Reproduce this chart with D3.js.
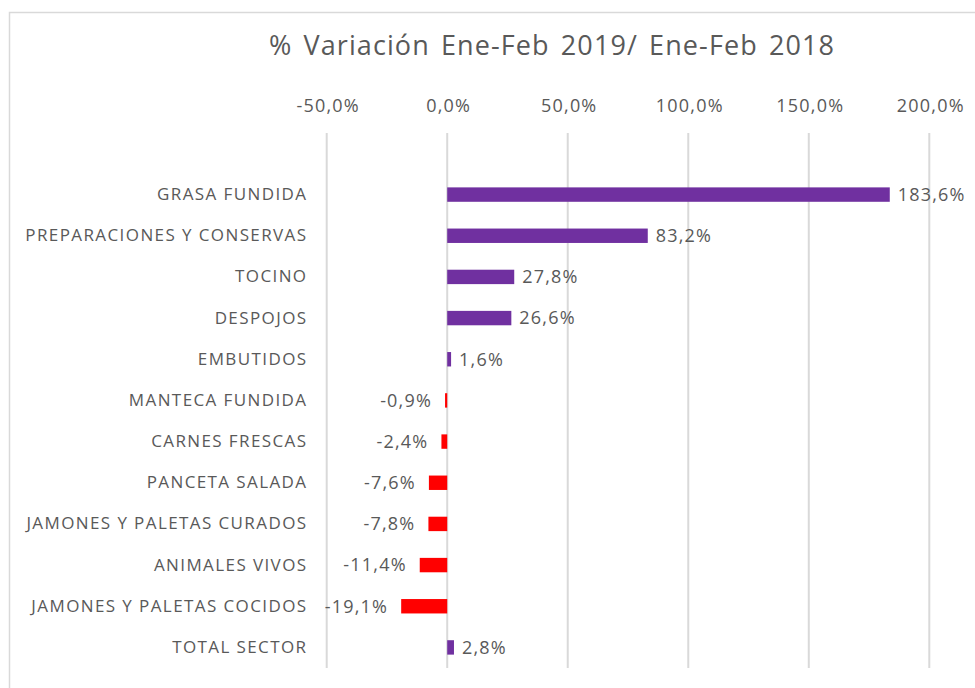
<!DOCTYPE html>
<html>
<head>
<meta charset="utf-8">
<script src="https://cdn.jsdelivr.net/npm/d3@7"></script>
<style>
  body { margin: 0; background: #fff; }
  svg text { font-family: "Open Sans", "Noto Sans", sans-serif; fill: #595959; }
</style>
</head>
<body>
<div id="chart"></div>
<script>
var categories = [
  "GRASA FUNDIDA",
  "PREPARACIONES Y CONSERVAS",
  "TOCINO",
  "DESPOJOS",
  "EMBUTIDOS",
  "MANTECA FUNDIDA",
  "CARNES FRESCAS",
  "PANCETA SALADA",
  "JAMONES Y PALETAS CURADOS",
  "ANIMALES VIVOS",
  "JAMONES Y PALETAS COCIDOS",
  "TOTAL SECTOR"
];
var values = [183.6, 83.2, 27.8, 26.6, 1.6, -0.9, -2.4, -7.6, -7.8, -11.4, -19.1, 2.8];
var tickValues = [-50, 0, 50, 100, 150, 200];
var title = "% Variación Ene-Feb 2019/ Ene-Feb 2018";

var width = 975;
var height = 688;

// Spanish style: comma decimal, plain hyphen for minus
var fmt = function(v) { return v.toFixed(1).replace(".", ",") + "%"; };

var svg = d3.select("#chart").append("svg")
  .attr("width", width)
  .attr("height", height);

// chart border
svg.append("rect")
  .attr("x", 9.5).attr("y", 12.5)
  .attr("width", 1000).attr("height", 700)
  .attr("fill", "none")
  .attr("stroke", "#d9d9d9")
  .attr("stroke-width", 1.5);

/* Scales */
var xScale = d3.scaleLinear()
  .domain([-50, 200])
  .range([326.7, 929.3]);

var yScale = d3.scaleBand()
  .domain(categories)
  .range([174, 668])
  .paddingInner(0.65)
  .paddingOuter(0.325);

/* Gridlines */
svg.append("g")
  .selectAll("line")
  .data(tickValues).enter()
  .append("line")
  .attr("x1", d => xScale(d)).attr("x2", d => xScale(d))
  .attr("y1", 133).attr("y2", 668)
  .attr("stroke", "#d9d9d9")
  .attr("stroke-width", 2);

/* Top axis labels */
var xAxis = d3.axisTop(xScale)
  .tickValues(tickValues)
  .tickFormat(fmt)
  .tickSize(0)
  .tickPadding(0);

svg.append("g")
  .attr("transform", "translate(1, 112)")
  .call(xAxis)
  .call(g => g.select(".domain").remove())
  .selectAll("text")
  .attr("font-size", 18)
  .attr("letter-spacing", 1.2)
  .attr("dy", 0)
  .style("font-family", "'Open Sans', sans-serif");

/* Title */
svg.append("text")
  .attr("x", 552)
  .attr("y", 55)
  .attr("text-anchor", "middle")
  .attr("font-size", 27)
  .attr("letter-spacing", 1.1)
  .attr("word-spacing", 3)
  .text(title);

/* Bars */
var rows = categories.map((c, i) => ({name: c, value: values[i]}));

svg.append("g")
  .selectAll("rect")
  .data(rows).enter()
  .append("rect")
  .attr("x", d => xScale(Math.min(0, d.value)))
  .attr("y", d => yScale(d.name))
  .attr("width", d => Math.abs(xScale(d.value) - xScale(0)))
  .attr("height", yScale.bandwidth())
  .attr("fill", d => d.value < 0 ? "#ff0000" : "#7030a0");

/* Value labels */
svg.append("g")
  .selectAll("text")
  .data(rows).enter()
  .append("text")
  .attr("x", d => d.value < 0 ? xScale(d.value) - 13 : xScale(d.value) + 8)
  .attr("y", d => yScale(d.name) + yScale.bandwidth() / 2)
  .attr("dy", "0.35em")
  .attr("text-anchor", d => d.value < 0 ? "end" : "start")
  .attr("font-size", 18)
  .attr("letter-spacing", 1.2)
  .text(d => fmt(d.value));

/* Category labels */
var yAxis = d3.axisLeft(yScale).tickSize(0).tickPadding(0);

svg.append("g")
  .attr("transform", "translate(307.5, 0)")
  .call(yAxis)
  .call(g => g.select(".domain").remove())
  .selectAll("text")
  .attr("font-size", 17)
  .attr("letter-spacing", 1.4)
  .style("font-family", "'Open Sans', sans-serif");
</script>
</body>
</html>
